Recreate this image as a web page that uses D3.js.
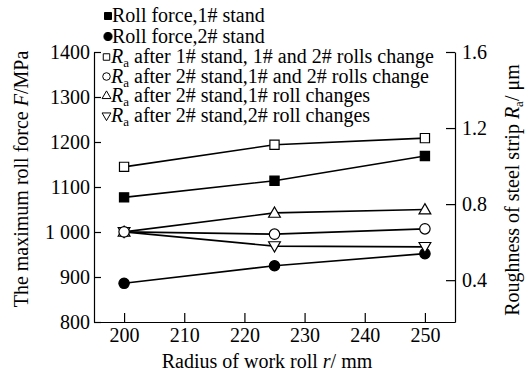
<!DOCTYPE html>
<html>
<head>
<meta charset="utf-8">
<script src="https://cdn.jsdelivr.net/npm/d3@7"></script>
<style>
  html, body { margin: 0; padding: 0; background: #fff; }
</style>
</head>
<body>
<svg id="chart" width="526" height="376"></svg>
<script>
// Work-roll radius (mm)
const radius = [200, 225, 250];

// Maximum roll force (MPa), left axis
const forceStand1 = [1077, 1114, 1169];
const forceStand2 = [886, 925, 952];

// Strip roughness Ra (µm), right axis
const raStand1Both = [0.996, 1.112, 1.147];
const raStand2Both = [0.654, 0.642, 0.670];
const raStand2Roll1 = [0.654, 0.754, 0.772];
const raStand2Roll2 = [0.654, 0.579, 0.575];

// Tick values and labels
const xTicks = [200, 210, 220, 230, 240, 250];
const forceTicks = [800, 900, 1000, 1100, 1200, 1300, 1400];
const forceTickLabels = ["800", "900", "1 000", "1100", "1200", "1300", "1400"];
const raTicks = [0.4, 0.8, 1.2, 1.6];
const raTickLabels = ["0.4", "0.8", "1.2", "1.6"];

const FONT = "'Liberation Serif', 'Times New Roman', Times, serif";
const FS = 20;
const svg = d3.select("#chart").style("font-family", FONT);
const plotLeft = 94, plotRight = 455, plotTop = 52, plotBottom = 322;

const x = d3.scaleLinear().domain([195, 255]).range([plotLeft, plotRight]);
const yF = d3.scaleLinear().domain([800, 1400]).range([plotBottom, plotTop]);
const yR = d3.scaleLinear().domain([0.18, 1.6]).range([plotBottom, plotTop]);

// Axes with inward ticks
const xAxis = d3.axisBottom(x).tickValues(xTicks).tickSizeInner(-9).tickSizeOuter(0).tickPadding(6);
const yAxisL = d3.axisLeft(yF).tickValues(forceTicks)
  .tickFormat((d, i) => forceTickLabels[i]).tickSizeInner(-7).tickSizeOuter(0).tickPadding(4);
const yAxisR = d3.axisRight(yR).tickValues(raTicks)
  .tickFormat((d, i) => raTickLabels[i]).tickSizeInner(-9).tickSizeOuter(0).tickPadding(7);

function styleAxis(g) {
  g.attr("font-family", null).style("font-family", FONT);
  g.selectAll("path, line").attr("stroke", "#000").attr("stroke-width", 1.2);
  g.selectAll("text").attr("font-size", FS).style("font-family", FONT).attr("fill", "#000");
}

svg.append("g").attr("transform", `translate(0,${plotBottom})`).call(xAxis).call(styleAxis);
svg.append("g").attr("transform", `translate(${plotLeft},0)`).call(yAxisL).call(styleAxis);
svg.append("g").attr("transform", `translate(${plotRight},0)`).call(yAxisR).call(styleAxis);

// Series definitions
const series = [
  { vals: forceStand1, y: yF, type: d3.symbolSquare, fill: "#000", rot: 0, size: 85 },
  { vals: forceStand2, y: yF, type: d3.symbolCircle, fill: "#000", rot: 0, size: 85 },
  { vals: raStand1Both, y: yR, type: d3.symbolSquare, fill: "#fff", rot: 0, size: 85 },
  { vals: raStand2Roll2, y: yR, type: d3.symbolTriangle, fill: "#fff", rot: 180, size: 60 },
  { vals: raStand2Roll1, y: yR, type: d3.symbolTriangle, fill: "#fff", rot: 0, size: 60 },
  { vals: raStand2Both, y: yR, type: d3.symbolCircle, fill: "#fff", rot: 0, size: 85 }
];

const plot = svg.append("g");
series.forEach(s => {
  const line = d3.line().x((d, i) => x(radius[i])).y(d => s.y(d));
  plot.append("path").datum(s.vals).attr("d", line)
    .attr("fill", "none").attr("stroke", "#000").attr("stroke-width", 1.6);
});
series.forEach(s => {
  plot.selectAll(null).data(s.vals).enter().append("path")
    .attr("d", d3.symbol().type(s.type).size(s.size))
    .attr("transform", (d, i) => `translate(${x(radius[i])},${s.y(d) + (s.type === d3.symbolTriangle ? (s.rot ? -1 : 1) : 0)}) rotate(${s.rot})`)
    .attr("fill", s.fill).attr("stroke", "#000").attr("stroke-width", 1.2);
});

// Legend
const legend = [
  { type: d3.symbolSquare, fill: "#000", rot: 0, size: 49, text: "Roll force,1# stand", ra: false },
  { type: d3.symbolCircle, fill: "#000", rot: 0, size: 52, text: "Roll force,2# stand", ra: false },
  { type: d3.symbolSquare, fill: "#fff", rot: 0, size: 42, text: " after 1# stand, 1# and 2# rolls change", ra: true },
  { type: d3.symbolCircle, fill: "#fff", rot: 0, size: 45, text: " after 2# stand,1# and 2# rolls change", ra: true },
  { type: d3.symbolTriangle, fill: "#fff", rot: 0, size: 34, text: " after 2# stand,1# roll changes", ra: true },
  { type: d3.symbolTriangle, fill: "#fff", rot: 180, size: 34, text: " after 2# stand,2# roll changes", ra: true }
];
const baselines = [22, 42.5, 63, 82.5, 102, 121.5];
legend.forEach((l, i) => {
  const by = baselines[i];
  const mx = l.ra ? 106.5 : 108;
  svg.append("path")
    .attr("d", d3.symbol().type(l.type).size(l.size))
    .attr("transform", `translate(${mx},${by - 6}) rotate(${l.rot})`)
    .attr("fill", l.fill).attr("stroke", "#000").attr("stroke-width", 1);
  const t = svg.append("text").attr("x", l.ra ? 111 : 112).attr("y", by)
    .attr("font-size", FS).style("font-family", FONT).attr("fill", "#000");
  if (l.ra) {
    t.append("tspan").attr("font-style", "italic").text("R");
    t.append("tspan").attr("font-size", 13).attr("dy", 4).text("a");
    t.append("tspan").attr("dy", -4).text(l.text);
  } else {
    t.text(l.text);
  }
});

// Axis titles
const xt = svg.append("text").attr("x", 267).attr("y", 368).attr("text-anchor", "middle")
  .attr("font-size", FS).style("font-family", FONT).attr("fill", "#000");
xt.append("tspan").text("Radius of work roll ");
xt.append("tspan").attr("font-style", "italic").text("r");
xt.append("tspan").text("/ mm");

const lt = svg.append("text").attr("transform", "translate(28,179) rotate(-90)")
  .attr("text-anchor", "middle").attr("font-size", FS).style("font-family", FONT).attr("fill", "#000");
lt.append("tspan").text("The maximum roll force ");
lt.append("tspan").attr("font-style", "italic").text("F");
lt.append("tspan").text("/MPa");

const rt = svg.append("text").attr("transform", "translate(519,190) rotate(-90)")
  .attr("text-anchor", "middle").attr("font-size", FS).style("font-family", FONT).attr("fill", "#000");
rt.append("tspan").text("Roughness of steel strip ");
rt.append("tspan").attr("font-style", "italic").text("R");
rt.append("tspan").attr("font-size", 13).attr("dy", 4).text("a");
rt.append("tspan").attr("dy", -4).text("/ μm");
</script>
</body>
</html>
